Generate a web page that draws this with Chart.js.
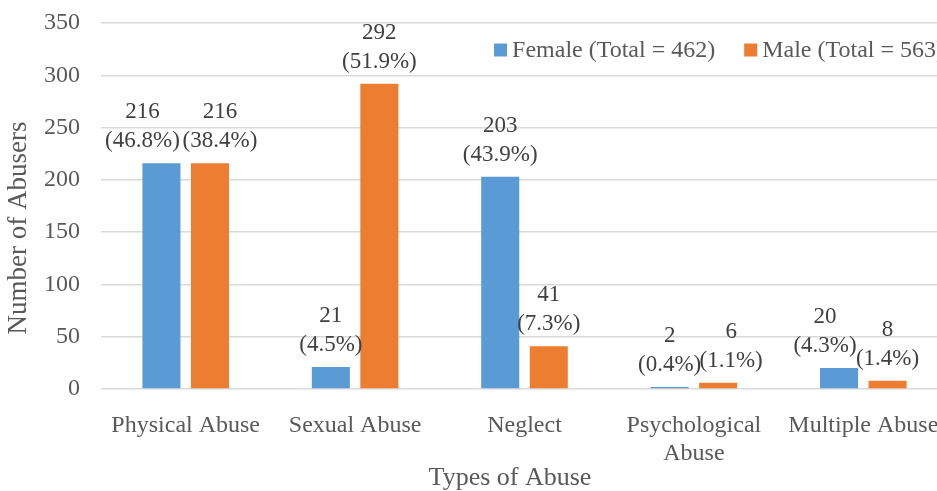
<!DOCTYPE html>
<html>
<head>
<meta charset="utf-8">
<script src="https://cdn.jsdelivr.net/npm/chart.js@4.4.1/dist/chart.umd.min.js"></script>
<style>
  html, body { margin: 0; padding: 0; background: #fff; overflow: hidden; }
  #wrap { width: 960px; height: 491px; }
</style>
</head>
<body>
<div id="wrap"><canvas id="canvas" width="960" height="491"></canvas></div>
<script>
// ---- data ----
var categories = ['Physical Abuse', 'Sexual Abuse', 'Neglect', ['Psychological', 'Abuse'], 'Multiple Abuse'];
var seriesNames = ['Female (Total = 462)', 'Male (Total = 563)'];
var female = [216, 21, 203, 2, 20];
var male = [216, 292, 41, 6, 8];
var femalePct = ['(46.8%)', '(4.5%)', '(43.9%)', '(0.4%)', '(4.3%)'];
var malePct = ['(38.4%)', '(51.9%)', '(7.3%)', '(1.1%)', '(1.4%)'];
var yMin = 0, yMax = 350, yStep = 50;
var xTitle = 'Types of Abuse';
var yTitle = 'Number of Abusers';

var FONT = '"Liberation Serif", "Times New Roman", serif';
var BLUE = '#5B9BD5', ORANGE = '#ED7D31';

// labels above the bars were nudged sideways by hand in the original
var labelShift = [[-19, 10], [0, 0], [0, 0], [0, 13], [-14, 0]];

var extras = {
  id: 'extras',
  afterDatasetsDraw: function (chart) {
    var ctx = chart.ctx;
    var pcts = [femalePct, malePct];
    ctx.save();
    ctx.font = '23px ' + FONT;
    ctx.fillStyle = '#404040';
    ctx.textAlign = 'center';
    ctx.textBaseline = 'alphabetic';
    chart.data.datasets.forEach(function (ds, d) {
      var meta = chart.getDatasetMeta(d);
      meta.data.forEach(function (bar, i) {
        var x = bar.x + labelShift[i][d];
        ctx.fillText(String(ds.data[i]), x, bar.y - 45);
        ctx.fillText(pcts[d][i], x, bar.y - 16);
      });
    });
    ctx.restore();
  },
  afterDraw: function (chart) {
    var ctx = chart.ctx, area = chart.chartArea;
    ctx.save();
    // axis titles
    ctx.fillStyle = '#595959';
    ctx.textAlign = 'center';
    ctx.textBaseline = 'middle';
    ctx.font = '26px ' + FONT;
    ctx.fillText(xTitle, 510, 478);
    ctx.translate(19, 228);
    ctx.rotate(-Math.PI / 2);
    ctx.font = '27px ' + FONT;
    ctx.fillText(yTitle, 0, 0);
    ctx.restore();

    // legend, drawn inside the plot area at the top right
    ctx.save();
    ctx.font = '24px ' + FONT;
    ctx.textBaseline = 'middle';
    ctx.textAlign = 'left';
    var box = 13, gap = 5, between = 29;
    var widths = chart.data.datasets.map(function (ds) { return box + gap + ctx.measureText(ds.label).width; });
    var total = widths[0] + between + widths[1];
    var x = area.right - 4 - total;
    var y = area.top + 27;
    chart.data.datasets.forEach(function (ds, d) {
      ctx.fillStyle = ds.backgroundColor;
      ctx.fillRect(x, y - box / 2, box, box);
      ctx.fillStyle = '#595959';
      ctx.fillText(ds.label, x + box + gap, y + 1);
      x += widths[d] + between;
    });
    ctx.restore();
  }
};

var barChartData = {
  labels: categories,
  datasets: [
    { label: seriesNames[0], data: female, backgroundColor: BLUE },
    { label: seriesNames[1], data: male, backgroundColor: ORANGE }
  ]
};

var ctx = document.getElementById('canvas').getContext('2d');
window.myBar = new Chart(ctx, {
  type: 'bar',
  data: barChartData,
  plugins: [extras],
  options: {
    responsive: false,
    animation: false,
    devicePixelRatio: 1,
    layout: { padding: { top: 23, right: 12, bottom: 0, left: 0 } },
    datasets: { bar: { categoryPercentage: 0.573, barPercentage: 0.784 } },
    plugins: {
      legend: { display: false },
      tooltip: { enabled: false }
    },
    scales: {
      x: {
        grid: { display: false },
        border: { display: false },
        ticks: {
          color: '#595959',
          font: { family: FONT, size: 24 },
          padding: 14,
          maxRotation: 0,
          autoSkip: false
        },
        afterFit: function (scale) {
          scale.height = 102;
          scale.paddingLeft = 0;
          scale.paddingRight = 0;
        }
      },
      y: {
        min: yMin,
        max: yMax,
        grid: { color: '#D9D9D9', lineWidth: 1.5, drawTicks: false },
        border: { display: false },
        ticks: {
          stepSize: yStep,
          color: '#595959',
          font: { family: FONT, size: 24 },
          padding: 21
        },
        afterFit: function (scale) {
          scale.width = 101;
          scale.paddingTop = 0;
          scale.paddingBottom = 0;
        }
      }
    }
  }
});
</script>
</body>
</html>
